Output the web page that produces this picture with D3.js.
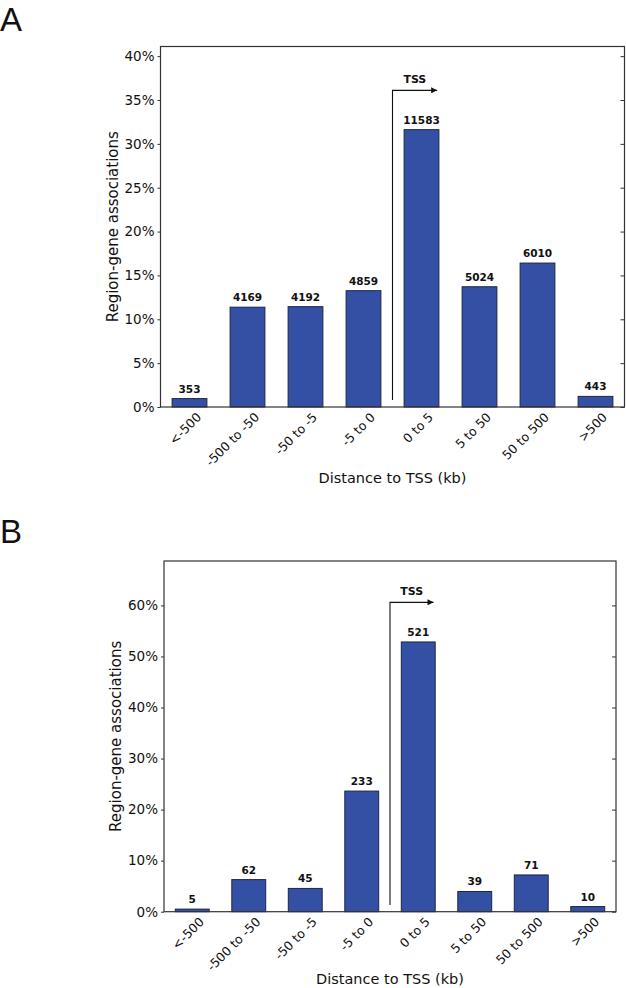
<!DOCTYPE html>
<html>
<head>
<meta charset="utf-8">
<script src="https://cdn.jsdelivr.net/npm/d3@7"></script>
<style>
  body { margin: 0; background: #fff; }
  text { font-family: "DejaVu Sans", sans-serif; fill: #111; }
</style>
</head>
<body>
<svg id="chart" width="626" height="988"></svg>
<script>
// categories shared by both panels
const categories = ["<-500", "-500 to -50", "-50 to -5", "-5 to 0", "0 to 5", "5 to 50", "50 to 500", ">500"];

// panel A values
const countsA = [353, 4169, 4192, 4859, 11583, 5024, 6010, 443];
const percentA = [0.96, 11.38, 11.44, 13.26, 31.62, 13.71, 16.41, 1.21];
const ticksA = [0, 5, 10, 15, 20, 25, 30, 35, 40];

// panel B values
const countsB = [5, 62, 45, 233, 521, 39, 71, 10];
const percentB = [0.51, 6.29, 4.56, 23.63, 52.84, 3.96, 7.20, 1.01];
const ticksB = [0, 10, 20, 30, 40, 50, 60];

const barFill = "#3450a4",
  barStroke = "#1e2547",
  frameColour = "#333";

var svg = d3.select("#chart");

// arrowhead for the TSS marker
svg.append("defs").append("marker")
  .attr("id", "arrowhead")
  .attr("viewBox", "0 0 10 10")
  .attr("refX", 10).attr("refY", 5)
  .attr("markerWidth", 7).attr("markerHeight", 6)
  .attr("markerUnits", "userSpaceOnUse")
  .attr("orient", "auto")
  .append("path")
  .attr("d", "M0,0L10,5L0,10Z")
  .attr("fill", "#111");

drawPanel({
  letter: "A", letterY: 31,
  left: 160.5, right: 624.5, top: 46.5, bottom: 407,
  yMax: 41.1, ticks: ticksA,
  percents: percentA, counts: countsA,
  tssTop: 36.1, tssBottom: 0.8, titleGap: 76
});

drawPanel({
  letter: "B", letterY: 543,
  left: 164, right: 616, top: 561, bottom: 911.7,
  yMax: 68.7, ticks: ticksB,
  percents: percentB, counts: countsB,
  tssTop: 60.6, tssBottom: 1.3, titleGap: 72
});

function drawPanel(p) {
  var g = svg.append("g");

  var x = d3.scaleLinear().domain([-0.5, categories.length - 0.5]).range([p.left, p.right]);
  var y = d3.scaleLinear().domain([0, p.yMax]).range([p.bottom, p.top]);
  var halfBar = 0.3;

  // panel letter
  svg.append("text")
    .attr("x", 0).attr("y", p.letterY)
    .style("font-family", "'Liberation Sans', Arial, sans-serif")
    .attr("font-size", 33)
    .text(p.letter);

  // bars
  var rows = categories.map(function(c, i) {
    return {cat: c, i: i, pct: p.percents[i], n: p.counts[i]};
  });

  g.selectAll("rect.bar")
    .data(rows)
    .enter().append("rect")
    .attr("class", "bar")
    .attr("x", function(d) { return x(d.i - halfBar); })
    .attr("width", function(d) { return x(d.i + halfBar) - x(d.i - halfBar); })
    .attr("y", function(d) { return y(d.pct); })
    .attr("height", function(d) { return y(0) - y(d.pct); })
    .style("fill", barFill)
    .style("stroke", barStroke)
    .style("stroke-width", 1);

  // count labels above bars
  g.selectAll("text.count")
    .data(rows)
    .enter().append("text")
    .attr("class", "count")
    .attr("x", function(d) { return x(d.i); })
    .attr("y", function(d) { return y(d.pct) - 6; })
    .attr("text-anchor", "middle")
    .attr("font-size", 10.5)
    .attr("font-weight", "bold")
    .text(function(d) { return d.n; });

  // left axis, ticks outward
  var yAxis = d3.axisLeft(y)
    .tickValues(p.ticks)
    .tickSize(3)
    .tickPadding(3)
    .tickFormat(function(d) { return d + "%"; });
  var ax = g.append("g")
    .attr("transform", "translate(" + p.left + ",0)")
    .call(yAxis);
  ax.select(".domain").remove();
  ax.selectAll("line").attr("stroke", frameColour);
  ax.selectAll("text")
    .style("font-family", "'DejaVu Sans', sans-serif")
    .attr("font-size", 13.5)
    .attr("fill", "#111");

  // right side ticks pointing inward
  var rAxis = d3.axisRight(y).tickValues(p.ticks).tickSize(-4).tickFormat("");
  var rx = g.append("g")
    .attr("transform", "translate(" + p.right + ",0)")
    .call(rAxis);
  rx.select(".domain").remove();
  rx.selectAll("line").attr("stroke", frameColour);

  // bottom category labels, rotated
  var xAxis = d3.axisBottom(x)
    .tickValues(d3.range(categories.length))
    .tickSize(0)
    .tickFormat(function(d) { return categories[d]; });
  var bx = g.append("g")
    .attr("transform", "translate(0," + p.bottom + ")")
    .call(xAxis);
  bx.select(".domain").remove();
  bx.selectAll("text")
    .style("font-family", "'DejaVu Sans', sans-serif")
    .attr("font-size", 12.5)
    .attr("fill", "#111")
    .attr("text-anchor", "end")
    .attr("dy", 0)
    .attr("y", 0)
    .attr("transform", "translate(12,11) rotate(-45)");

  // frame
  g.append("rect")
    .attr("x", p.left).attr("y", p.top)
    .attr("width", p.right - p.left)
    .attr("height", p.bottom - p.top)
    .attr("fill", "none")
    .attr("stroke", frameColour)
    .attr("stroke-width", 1.2);

  // TSS marker
  var tssX = 3.5, tssTip = 4.27;
  g.append("path")
    .attr("d", "M" + x(tssX) + "," + y(p.tssBottom) +
      "V" + y(p.tssTop) + "H" + x(tssTip))
    .attr("fill", "none")
    .attr("stroke", "#111")
    .attr("stroke-width", 1.1)
    .attr("marker-end", "url(#arrowhead)");
  g.append("text")
    .attr("x", (x(tssX) + x(tssTip)) / 2)
    .attr("y", y(p.tssTop) - 7)
    .attr("text-anchor", "middle")
    .attr("font-size", 11)
    .attr("font-weight", "bold")
    .text("TSS");

  // axis titles
  g.append("text")
    .attr("transform", "translate(" + (p.left - 43) + "," + ((p.top + p.bottom) / 2) + ") rotate(-90)")
    .attr("text-anchor", "middle")
    .attr("font-size", 15)
    .text("Region-gene associations");

  g.append("text")
    .attr("x", (p.left + p.right) / 2)
    .attr("y", p.bottom + p.titleGap)
    .attr("text-anchor", "middle")
    .attr("font-size", 14.5)
    .text("Distance to TSS (kb)");
}
</script>
</body>
</html>
